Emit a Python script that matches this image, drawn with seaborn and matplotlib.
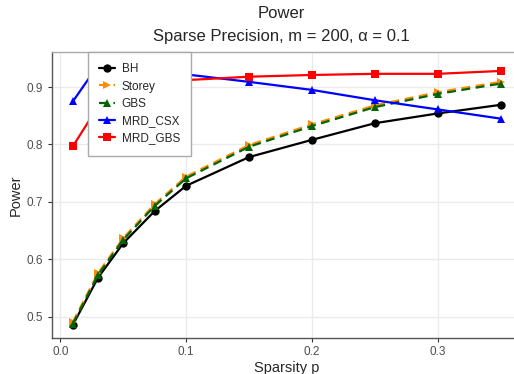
import matplotlib
matplotlib.use("Agg")
import matplotlib.pyplot as plt
import seaborn as sns
import pandas as pd

sparsity = [0.01, 0.03, 0.05, 0.075, 0.1, 0.15, 0.2, 0.25, 0.3, 0.35]

power_bh = [0.486, 0.568, 0.628, 0.684, 0.728, 0.778, 0.808, 0.837, 0.854, 0.869]
power_storey = [0.491, 0.576, 0.637, 0.696, 0.744, 0.799, 0.835, 0.868, 0.891, 0.909]
power_gbs = [0.488, 0.573, 0.634, 0.693, 0.741, 0.796, 0.832, 0.865, 0.888, 0.906]
power_mrd_csx = [0.875, 0.938, 0.936, 0.930, 0.922, 0.909, 0.895, 0.877, 0.861, 0.845]
power_mrd_gbs = [0.797, 0.866, 0.890, 0.905, 0.912, 0.918, 0.921, 0.923, 0.923, 0.928]

methods = ["BH", "Storey", "GBS", "MRD_CSX", "MRD_GBS"]
colors = {"BH": "black", "Storey": "#ff8c00", "GBS": "#006400",
          "MRD_CSX": "blue", "MRD_GBS": "red"}
markers = {"BH": "o", "Storey": ">", "GBS": "^", "MRD_CSX": "^", "MRD_GBS": "s"}
dashes = {"BH": "", "Storey": (4, 2.5), "GBS": (4, 2.5), "MRD_CSX": "", "MRD_GBS": ""}

values = [power_bh, power_storey, power_gbs, power_mrd_csx, power_mrd_gbs]
df = pd.concat(
    [pd.DataFrame({"p": sparsity, "power": v, "method": m}) for m, v in zip(methods, values)],
    ignore_index=True,
)

sns.set_style("white")
plt.rcParams["font.family"] = ["Liberation Sans", "DejaVu Sans"]

fig = plt.figure(figsize=(5.14, 3.74), dpi=100)
W, H = 514, 374
left, right, top, bottom = 51.5, 522, 52, 338
ax = fig.add_axes([left / W, (H - bottom) / H, (right - left) / W, (bottom - top) / H])

sns.lineplot(data=df, x="p", y="power", hue="method", style="method",
             hue_order=methods, style_order=methods, palette=colors,
             markers=markers, dashes=dashes, linewidth=1.6, markersize=6,
             markeredgewidth=0, ax=ax)

ax.set_xlim(-0.007, 0.367)
ax.set_ylim(0.463, 0.961)
ax.set_xticks([0.0, 0.1, 0.2, 0.3])
ax.set_xticklabels(["0.0", "0.1", "0.2", "0.3"])
ax.set_yticks([0.5, 0.6, 0.7, 0.8, 0.9])
ax.set_yticklabels(["0.5", "0.6", "0.7", "0.8", "0.9"])
ax.grid(True, color="#ebebeb", linewidth=1.0)
ax.set_axisbelow(True)
ax.tick_params(axis="both", labelsize=8.5, labelcolor="#4d4d4d", color="#333333",
               length=3, width=0.8, bottom=True, left=True, pad=3)

for side in ["left", "bottom"]:
    ax.spines[side].set_color("#555555")
    ax.spines[side].set_linewidth(1.0)
ax.spines["top"].set_color("#aaaaaa")
ax.spines["top"].set_linewidth(1.0)
ax.spines["right"].set_visible(False)

ax.set_xlabel("Sparsity p", fontsize=10.5, labelpad=2)
ax.set_ylabel("Power", fontsize=10.5, labelpad=3)

fig.text(0.5 * (left + 512) / W, (H - 14) / H, "Power", ha="center", va="center", fontsize=12)
fig.text(0.5 * (left + 512) / W, (H - 36) / H, "Sparse Precision, m = 200, α = 0.1",
         ha="center", va="center", fontsize=12)

leg = ax.legend(title=None, loc="upper left", bbox_to_anchor=(36.5 / (right - left), 1.0),
                fontsize=8.5, frameon=True, fancybox=False, borderpad=0.95,
                borderaxespad=0, framealpha=1, facecolor="white",
                handlelength=1.3, labelspacing=0.45, handletextpad=0.6)
leg.get_frame().set_edgecolor("#aaaaaa")
leg.get_frame().set_linewidth(1.0)
leg.set_zorder(10)

fig.savefig("out.png", dpi=100)
